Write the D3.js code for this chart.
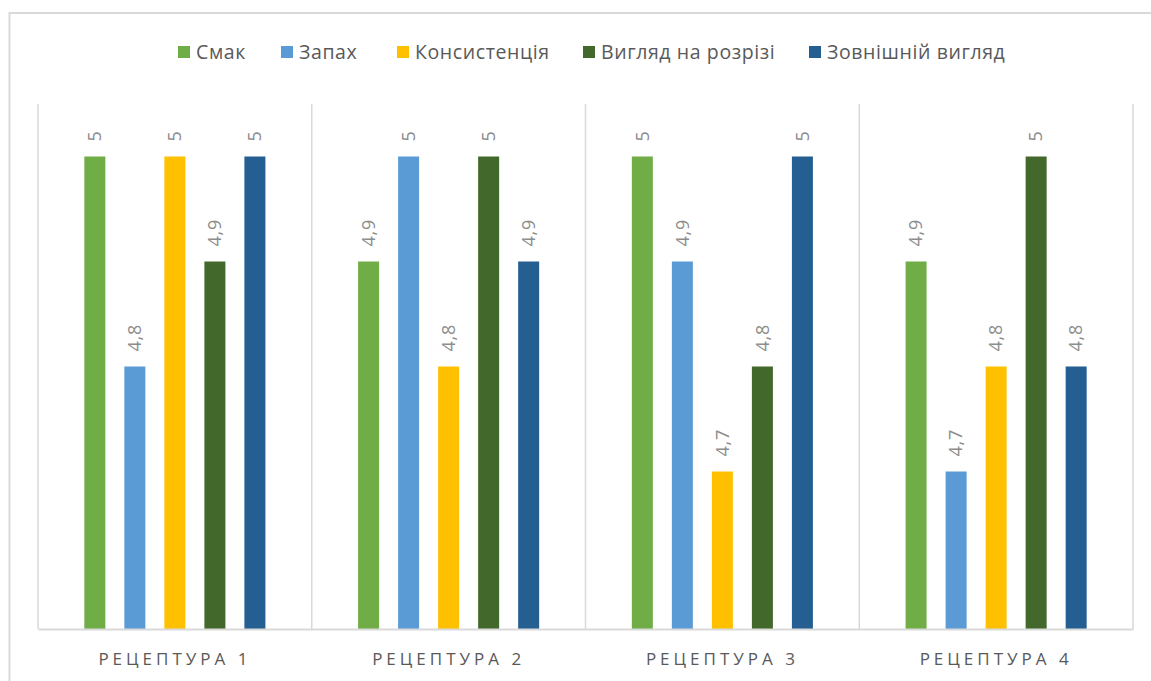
<!DOCTYPE html>
<html>
<head>
<meta charset="utf-8">
<script src="https://cdn.jsdelivr.net/npm/d3@7"></script>
<style>
  html, body { margin: 0; padding: 0; background: #ffffff; }
  svg { display: block; }
  text { font-family: "Open Sans", "Liberation Sans", sans-serif; }
</style>
</head>
<body>
<svg id="chart" width="1151" height="681"></svg>
<script>
// Recipes and their sensory scores (5-point scale)
const categories = ["Рецептура 1", "Рецептура 2", "Рецептура 3", "Рецептура 4"];
const seriesNames = ["Смак", "Запах", "Консистенція", "Вигляд на розрізі", "Зовнішній вигляд"];
const smak        = [5.0, 4.9, 5.0, 4.9];
const zapakh      = [4.8, 5.0, 4.9, 4.7];
const konsyst     = [5.0, 4.8, 4.7, 4.8];
const vyhliadRoz  = [4.9, 5.0, 4.8, 5.0];
const zovnVyhliad = [5.0, 4.9, 5.0, 4.8];
const seriesColors = ["#70AD47", "#5B9BD5", "#FFC000", "#43682B", "#255E91"];

const seriesValues = [smak, zapakh, konsyst, vyhliadRoz, zovnVyhliad];

const svg = d3.select("#chart");

// outer chart frame
svg.append("rect")
  .attr("x", 9.5).attr("y", 13)
  .attr("width", 1200).attr("height", 700)
  .attr("fill", "none")
  .attr("stroke", "#d9d9d9")
  .attr("stroke-width", 2);

const plot = { left: 38, right: 1133, top: 104, bottom: 629 };

const x0 = d3.scaleBand()
  .domain(categories)
  .range([plot.left, plot.right])
  .padding(0);

const x1 = d3.scaleBand()
  .domain(seriesNames)
  .range([0, x0.bandwidth()])
  .paddingInner(0.475)
  .paddingOuter(1.158);

const y = d3.scaleLinear()
  .domain([4.55, 5.05])
  .range([plot.bottom, plot.top]);

// category separators
const seps = categories.map(c => x0(c)).concat([plot.right]);
svg.append("g").selectAll("line")
  .data(seps)
  .join("line")
  .attr("x1", d => d).attr("x2", d => d)
  .attr("y1", plot.top).attr("y2", plot.bottom)
  .attr("stroke", "#d9d9d9")
  .attr("stroke-width", 1.5);

// bars
const rows = [];
categories.forEach((c, ci) => {
  seriesNames.forEach((s, si) => {
    rows.push({ cat: c, series: s, value: seriesValues[si][ci], color: seriesColors[si] });
  });
});

const g = svg.append("g");
g.selectAll("rect")
  .data(rows)
  .join("rect")
  .attr("x", d => x0(d.cat) + x1(d.series))
  .attr("y", d => y(d.value))
  .attr("width", x1.bandwidth())
  .attr("height", d => plot.bottom - y(d.value))
  .attr("fill", d => d.color);

// value labels, rotated
g.selectAll("text.val")
  .data(rows)
  .join("text")
  .attr("class", "val")
  .attr("transform", d => {
    const cx = x0(d.cat) + x1(d.series) + x1.bandwidth() / 2;
    const ty = y(d.value) - 15;
    return `translate(${cx},${ty}) rotate(-90)`;
  })
  .attr("dy", "0.35em")
  .attr("text-anchor", "start")
  .attr("fill", "#8c8c8c")
  .attr("font-size", 18)
  .attr("letter-spacing", "0.8px")
  .text(d => String(d.value).replace(".", ","));

// baseline axis
const xAxis = d3.axisBottom(x0).tickSize(0).tickPadding(24)
  .tickFormat(d => d.toUpperCase());
const ax = svg.append("g")
  .attr("transform", `translate(0,${plot.bottom})`)
  .call(xAxis);
ax.select(".domain").attr("stroke", "#d9d9d9").attr("stroke-width", 2);
ax.selectAll("text")
  .attr("font-size", 17)
  .attr("fill", "#595959")
  .attr("letter-spacing", "4px")
  .attr("font-family", "\"Open Sans\", sans-serif");

// legend
const legendX = [178, 281, 397, 583, 809];
const legend = svg.append("g");
seriesNames.forEach((s, i) => {
  const lg = legend.append("g").attr("transform", `translate(${legendX[i]},52)`);
  lg.append("rect")
    .attr("x", 0).attr("y", -6)
    .attr("width", 12).attr("height", 12)
    .attr("fill", seriesColors[i]);
  lg.append("text")
    .attr("x", 18).attr("dy", "0.35em")
    .attr("font-size", 19.5)
    .attr("letter-spacing", "0.6px")
    .attr("fill", "#595959")
    .text(s);
});
</script>
</body>
</html>
